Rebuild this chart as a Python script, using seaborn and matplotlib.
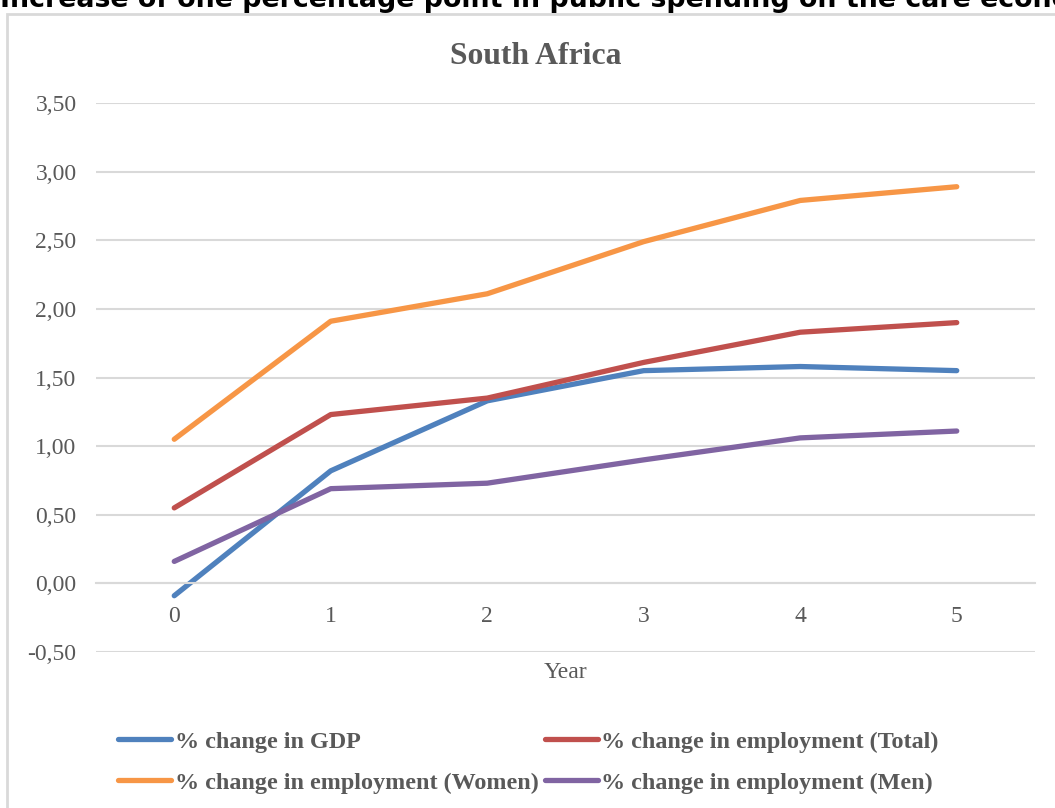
import pandas as pd
import seaborn as sns
import matplotlib.pyplot as plt
from matplotlib.patches import Rectangle

# Data
years = [0, 1, 2, 3, 4, 5]
gdp = [-0.09, 0.82, 1.33, 1.55, 1.58, 1.55]
emp_total = [0.55, 1.23, 1.35, 1.61, 1.83, 1.90]
emp_women = [1.05, 1.91, 2.11, 2.49, 2.79, 2.89]
emp_men = [0.16, 0.69, 0.73, 0.90, 1.06, 1.11]

series_names = [
    "% change in GDP",
    "% change in employment (Total)",
    "% change in employment (Women)",
    "% change in employment (Men)",
]
colors = ["#4F81BD", "#C0504D", "#F79646", "#8064A2"]
yticks = [-0.5, 0.0, 0.5, 1.0, 1.5, 2.0, 2.5, 3.0, 3.5]

df = pd.DataFrame({
    "Year": years * 4,
    "Value": gdp + emp_total + emp_women + emp_men,
    "Series": sum([[s] * len(years) for s in series_names], []),
})

TXT = "#595959"
GRID = "#D9D9D9"
serif = "Liberation Serif"

sns.set_style("white")
fig = plt.figure(figsize=(10.55, 8.08), dpi=100)
ax = fig.add_axes([96 / 1055, 1 - 652 / 808, (1035 - 96) / 1055, (652 - 103) / 808])

sns.lineplot(data=df, x="Year", y="Value", hue="Series", hue_order=series_names,
             palette=colors, linewidth=3.8, ax=ax, solid_capstyle="round")

ax.set_xlim(-0.5, 5.5)
ax.set_ylim(-0.5, 3.5)

# category axis sits on the zero line
for side in ["left", "right", "top"]:
    ax.spines[side].set_visible(False)
ax.spines["bottom"].set_position(("data", 0))
ax.spines["bottom"].set_color(GRID)
ax.spines["bottom"].set_linewidth(1.5)

ax.set_yticks(yticks)
ax.set_yticklabels([f"{v:.2f}".replace(".", ",") for v in yticks],
                   fontfamily=serif, fontsize=17, color=TXT)
ax.set_xticks(years)
ax.set_xticklabels([str(y) for y in years], fontfamily=serif, fontsize=17, color=TXT)
ax.tick_params(axis="both", length=0)
ax.tick_params(axis="y", pad=14)
ax.tick_params(axis="x", pad=16)
ax.grid(axis="y", color=GRID, linewidth=1.5)
ax.set_axisbelow(True)
ax.set_xlabel("")
ax.set_ylabel("")

fig.text(565 / 1055, 1 - 673 / 808, "Year", ha="center", va="center",
         fontfamily=serif, fontsize=17, color=TXT)
fig.text(536 / 1055, 1 - 56 / 808, "South Africa", ha="center", va="center",
         fontfamily=serif, fontsize=22.8, fontweight="bold", color=TXT)

# cut-off heading above the chart box
fig.text(0, 1 - 7 / 808, "Increase of one percentage point in public spending on the care economy",
         ha="left", va="baseline", fontfamily="DejaVu Sans", fontsize=19.3,
         fontweight="bold", color="black")

# chart area border
fig.patches.append(Rectangle((7 / 1055, -0.1), 1.2, 1 - 14 / 808 + 0.1,
                             transform=fig.transFigure, fill=False,
                             edgecolor=GRID, linewidth=2))

handles, labels = ax.get_legend_handles_labels()
ax.get_legend().remove()
order = [0, 2, 1, 3]
leg = fig.legend([handles[i] for i in order], [labels[i] for i in order],
                 loc="upper left", bbox_to_anchor=(118 / 1055, 1 - 731 / 808),
                 ncol=2, frameon=False, borderpad=0, borderaxespad=0,
                 handlelength=2.2, handletextpad=0.15, columnspacing=0.25,
                 labelspacing=0.78,
                 prop={"family": serif, "size": 17.4, "weight": "bold"})
for t in leg.get_texts():
    t.set_color(TXT)
for h in leg.get_lines():
    h.set_linewidth(3.8)

fig.savefig("out.png", dpi=100)
